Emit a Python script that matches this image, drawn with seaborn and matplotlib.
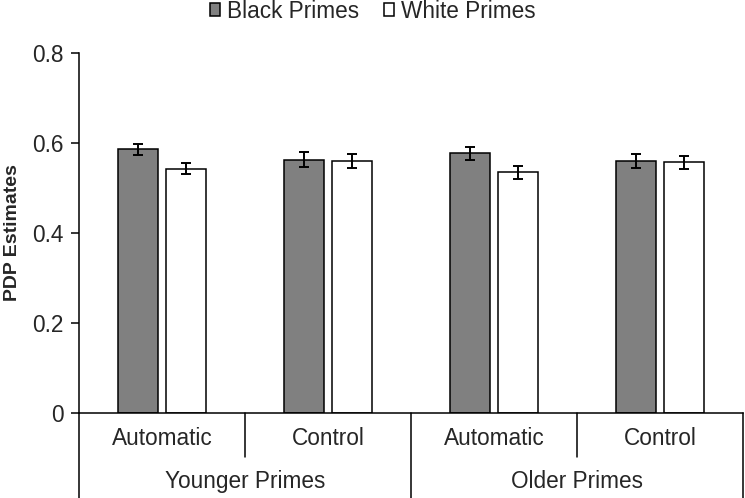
import matplotlib
matplotlib.use("Agg")
import matplotlib.pyplot as plt
import seaborn as sns
import pandas as pd

# ---- data ----
groups = ["Younger Primes", "Older Primes"]
processes = ["Automatic", "Control"]
series = ["Black Primes", "White Primes"]
black_means = [0.585, 0.562, 0.576, 0.559]
white_means = [0.542, 0.559, 0.534, 0.556]
black_err = [0.012, 0.016, 0.014, 0.016]
white_err = [0.012, 0.016, 0.014, 0.014]
yticks = [0, 0.2, 0.4, 0.6, 0.8]
ytick_labels = ["0", "0.2", "0.4", "0.6", "0.8"]

# build long-form table
cond_keys = [f"{g}|{p}" for g in groups for p in processes]
rows = []
for k, v in zip(cond_keys, black_means):
    rows.append({"cond": k, "prime": series[0], "value": v})
for k, v in zip(cond_keys, white_means):
    rows.append({"cond": k, "prime": series[1], "value": v})
df = pd.DataFrame(rows)
errs = {series[0]: black_err, series[1]: white_err}

sns.set_theme(style="white")
plt.rcParams["font.family"] = ["Liberation Sans", "DejaVu Sans"]
FS = 16.3

fig = plt.figure(figsize=(7.45, 4.98), dpi=100)
ax = fig.add_axes([79 / 745, 1 - 412.5 / 498, (743 - 79) / 745, 360 / 498])

sns.barplot(data=df, x="cond", y="value", hue="prime", order=cond_keys,
            hue_order=series,
            palette={series[0]: "#808080", series[1]: "white"},
            edgecolor="black", linewidth=1.1, width=0.58, gap=0.17,
            errorbar=None, ax=ax)

# error bars at the bar centres produced by seaborn
for cont, name in zip(ax.containers, series):
    xs = [b.get_x() + b.get_width() / 2 for b in cont]
    hs = [b.get_height() for b in cont]
    ax.errorbar(xs, hs, yerr=errs[name], fmt="none", ecolor="black",
                elinewidth=1.4, capsize=3.6, capthick=1.4, zorder=5)

ax.set_xlim(-0.5, 3.5)
ax.set_ylim(0, 0.8)
ax.set_yticks(yticks)
ax.set_yticklabels(ytick_labels, fontsize=FS)
ax.set_xticks(range(len(cond_keys)))
ax.set_xticklabels([k.split("|")[1] for k in cond_keys], fontsize=FS)
ax.tick_params(axis="x", length=0, pad=10.5)
ax.tick_params(axis="y", length=6, width=1.1, pad=5, direction="out",
               left=True, color="black")
ax.set_xlabel("")
ax.set_ylabel("PDP Estimates", fontsize=14, fontweight="bold")
ax.yaxis.set_label_coords(-0.088, 0.5)

for s in ["top", "right"]:
    ax.spines[s].set_visible(False)
for s in ["left", "bottom"]:
    ax.spines[s].set_color("black")
    ax.spines[s].set_linewidth(1.1)

# two-level category axis: separators and group labels
trans = ax.get_xaxis_transform()
for xpos in [-0.5, 1.5, 3.5]:
    ax.plot([xpos, xpos], [0, -0.24], color="black", lw=1.1,
            transform=trans, clip_on=False)
for xpos in [0.5, 2.5]:
    ax.plot([xpos, xpos], [0, -0.124], color="black", lw=1.1,
            transform=trans, clip_on=False)
for i, g in enumerate(groups):
    ax.text(i * 2 + 0.5, -0.192, g, transform=trans, ha="center",
            va="center", fontsize=FS, clip_on=False)

# legend at top
handles, labels = ax.get_legend_handles_labels()
if ax.get_legend() is not None:
    ax.get_legend().remove()
fig.legend(handles, labels, loc="center", bbox_to_anchor=(0.5, 1 - 11 / 498),
           ncol=2, frameon=False, fontsize=FS, handlelength=0.45,
           handleheight=0.45, handletextpad=0.3, columnspacing=1.1,
           borderaxespad=0, borderpad=0)

fig.savefig("out.png", dpi=100)
